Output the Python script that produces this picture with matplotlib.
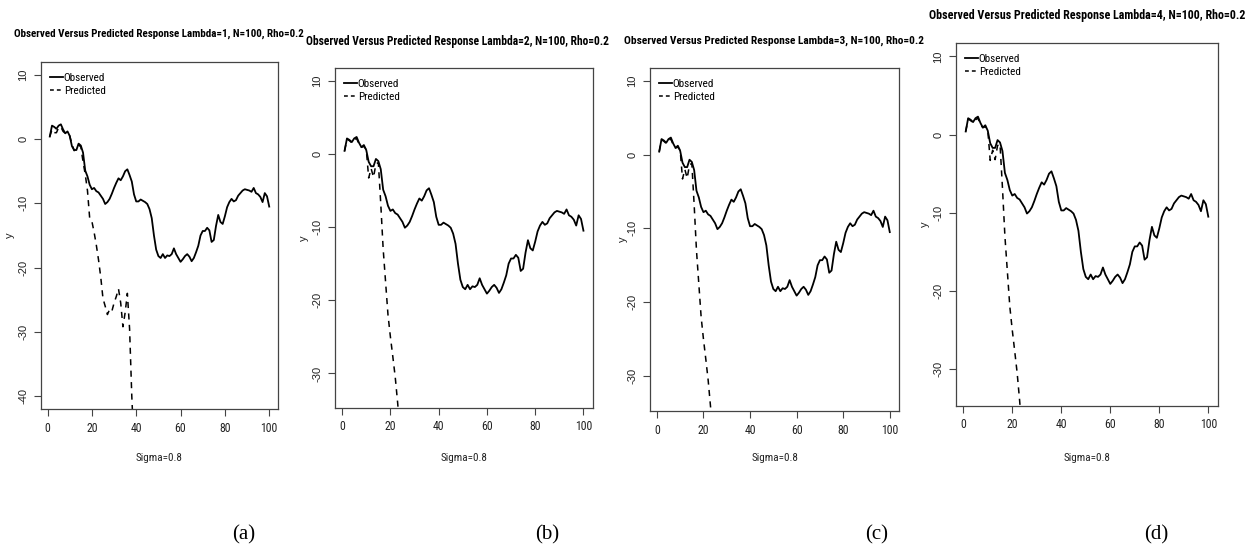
import matplotlib
matplotlib.use("Agg")
import matplotlib.pyplot as plt
from matplotlib.lines import Line2D
from matplotlib import font_manager

# ---------------- data ----------------
x_obs = list(range(1, 101))
observed = [0.4, 2.1, 1.9, 1.6, 2.1, 2.3, 1.5, 0.9, 1.2, 0.5,
            -1.1, -1.7, -1.7, -0.7, -1.0, -2.1, -4.9, -5.8, -7.1, -7.8,
            -7.6, -8.1, -8.3, -8.8, -9.3, -10.1, -9.8, -9.3, -8.5, -7.6,
            -6.8, -6.1, -6.4, -5.8, -5.0, -4.7, -5.6, -6.6, -8.6, -9.7,
            -9.7, -9.4, -9.6, -9.8, -10.1, -10.9, -12.3, -15.0, -17.2, -18.2,
            -18.5, -17.9, -18.5, -18.1, -18.2, -17.9, -17.0, -17.9, -18.5, -19.1,
            -18.7, -18.2, -17.9, -18.3, -19.0, -18.5, -17.6, -16.6, -15.0, -14.3,
            -14.3, -13.8, -14.2, -16.0, -15.7, -13.5, -11.8, -12.9, -13.2, -12.0,
            -10.6, -9.8, -9.3, -9.7, -9.5, -8.8, -8.4, -8.0, -7.8, -7.9,
            -8.0, -8.2, -7.6, -8.4, -8.6, -9.0, -9.8, -8.4, -8.9, -10.5]

x_pred_l1 = list(range(1, 40))
predicted_l1 = [0.4, 1.5, 1.0, 1.0, 1.8, 1.9, 1.2, 0.9, 0.9, 0.5,
                -0.8, -1.8, -1.5, -0.9, -1.2, -3.5, -5.5, -8.0, -12.3, -12.8,
                -14.5, -16.5, -18.8, -21.5, -24.8, -26.0, -27.3, -26.5, -26.8, -25.5,
                -24.5, -23.3, -25.5, -29.2, -27.0, -24.0, -29.5, -40.0, -48.0]

x_pred_l234 = list(range(1, 25))
predicted_l234 = [0.4, 2.0, 1.8, 1.5, 1.9, 2.1, 1.3, 0.9, 1.0, 0.6,
                  -3.3, -2.0, -3.2, -1.4, -1.2, -6.8, -13.0, -17.5, -22.0, -25.0,
                  -27.7, -30.5, -34.0, -38.0]

lambdas = [1, 2, 3, 4]
panel_letters = ["(a)", "(b)", "(c)", "(d)"]
x_ticks = [0, 20, 40, 60, 80, 100]
y_ticks_a = [10, 0, -10, -20, -30, -40]
y_ticks_bcd = [10, 0, -10, -20, -30]
ylim_a = (-40, 10)
ylim_bcd = (-33, 10)

# ---------------- fonts ----------------
available = {f.name for f in font_manager.fontManager.ttflist}
NARROW_STRETCH = "normal"
NARROW = None
for cand in ["Liberation Sans Narrow", "Arial Narrow", "Roboto Condensed",
             "Open Sans Condensed", "DejaVu Sans Condensed"]:
    if cand in available:
        NARROW = [cand, "DejaVu Sans"]
        break
if NARROW is None:
    cond = [f for f in font_manager.fontManager.ttflist
            if f.name == "DejaVu Sans" and "ondensed" in f.fname]
    if cond:
        NARROW = ["DejaVu Sans"]
        NARROW_STRETCH = "condensed"
    else:
        NARROW = ["Liberation Sans", "DejaVu Sans"]
SANS = ["Liberation Sans", "DejaVu Sans"]
SERIF = ["Liberation Serif", "DejaVu Serif"]

# ---------------- layout ----------------
W, H = 1247, 550
fig = plt.figure(figsize=(W / 100, H / 100), dpi=100)
fig.patch.set_facecolor("white")

# pixel boxes: left, right, top, bottom ; title y ; y-label x ; title centre ; title width
boxes = [
    (41, 278, 62, 409, 34, 10, 159, 272),
    (335, 593, 68, 408, 42, 304, 458, 287),
    (650, 899, 68, 411, 41, 623, 774, 282),
    (956, 1218, 43, 406, 15, 925, 1087, 298),
]
letter_x = [244, 547, 877, 1156]

def rpad(lo, hi):
    r = hi - lo
    return lo - 0.04 * r, hi + 0.04 * r

renderer = fig.canvas.get_renderer()

def fit_text(txt, target_w, base_size, max_size):
    txt.set_fontsize(base_size)
    w = txt.get_window_extent(renderer=renderer).width
    size = min(max_size, base_size * target_w / w)
    txt.set_fontsize(size)

for i, (l, r, t, b, ty, ylx, tcx, tw) in enumerate(boxes):
    ax = fig.add_axes([l / W, 1 - b / H, (r - l) / W, (b - t) / H])
    if i == 0:
        xp, yp = x_pred_l1, predicted_l1
        ylim, yt = ylim_a, y_ticks_a
    else:
        xp, yp = x_pred_l234, predicted_l234
        ylim, yt = ylim_bcd, y_ticks_bcd
    ax.plot(x_obs, observed, color="black", lw=1.3, solid_joinstyle="round")
    ax.plot(xp, yp, color="black", lw=1.1, dashes=(4, 3.5))
    ax.set_xlim(*rpad(1, 100))
    ax.set_ylim(*rpad(*ylim))
    ax.set_xticks(x_ticks)
    ax.set_xticklabels([str(v) for v in x_ticks], fontfamily=NARROW,
                       fontstretch=NARROW_STRETCH, fontsize=8.5, color="#222222")
    ax.set_yticks(yt)
    ax.set_yticklabels([str(v) for v in yt], fontfamily=SANS, fontsize=8,
                       rotation=90, va="center", color="#222222")
    ax.tick_params(axis="both", direction="out", length=5, width=0.8,
                   color="#444444", pad=4)
    for s in ax.spines.values():
        s.set_color("#444444")
        s.set_linewidth(0.9)
    handles = [Line2D([], [], color="black", lw=1.3),
               Line2D([], [], color="black", lw=1.1, dashes=(2.5, 2.0))]
    ax.legend(handles, ["Observed", "Predicted"], loc="upper left",
              bbox_to_anchor=(0.0, 0.995), frameon=False,
              prop={"family": NARROW, "size": 8, "stretch": NARROW_STRETCH},
              handlelength=1.15, handletextpad=0.1, labelspacing=0.3,
              borderaxespad=0.4)
    title = fig.text(tcx / W, 1 - ty / H,
                     f"Observed Versus Predicted Response Lambda={lambdas[i]}, N=100, Rho=0.2",
                     ha="center", va="center", fontfamily=NARROW,
                     fontstretch=NARROW_STRETCH, fontweight="bold", fontsize=9)
    fit_text(title, tw * 1.06, 9, 10)
    fig.text((l + r) / 2 / W, 1 - 458 / H, "Sigma=0.8", ha="center", va="center",
             fontfamily=NARROW, fontstretch=NARROW_STRETCH, fontsize=8,
             color="#222222")
    fig.text(ylx / W, 1 - ((t + b) / 2) / H, "y", ha="center", va="center",
             rotation=90, fontfamily=SANS, fontsize=8, color="#222222")
    fig.text(letter_x[i] / W, 1 - 535 / H, panel_letters[i], ha="center",
             va="center", fontfamily=SERIF, fontsize=15)

fig.savefig("out.png", dpi=100, facecolor="white")
